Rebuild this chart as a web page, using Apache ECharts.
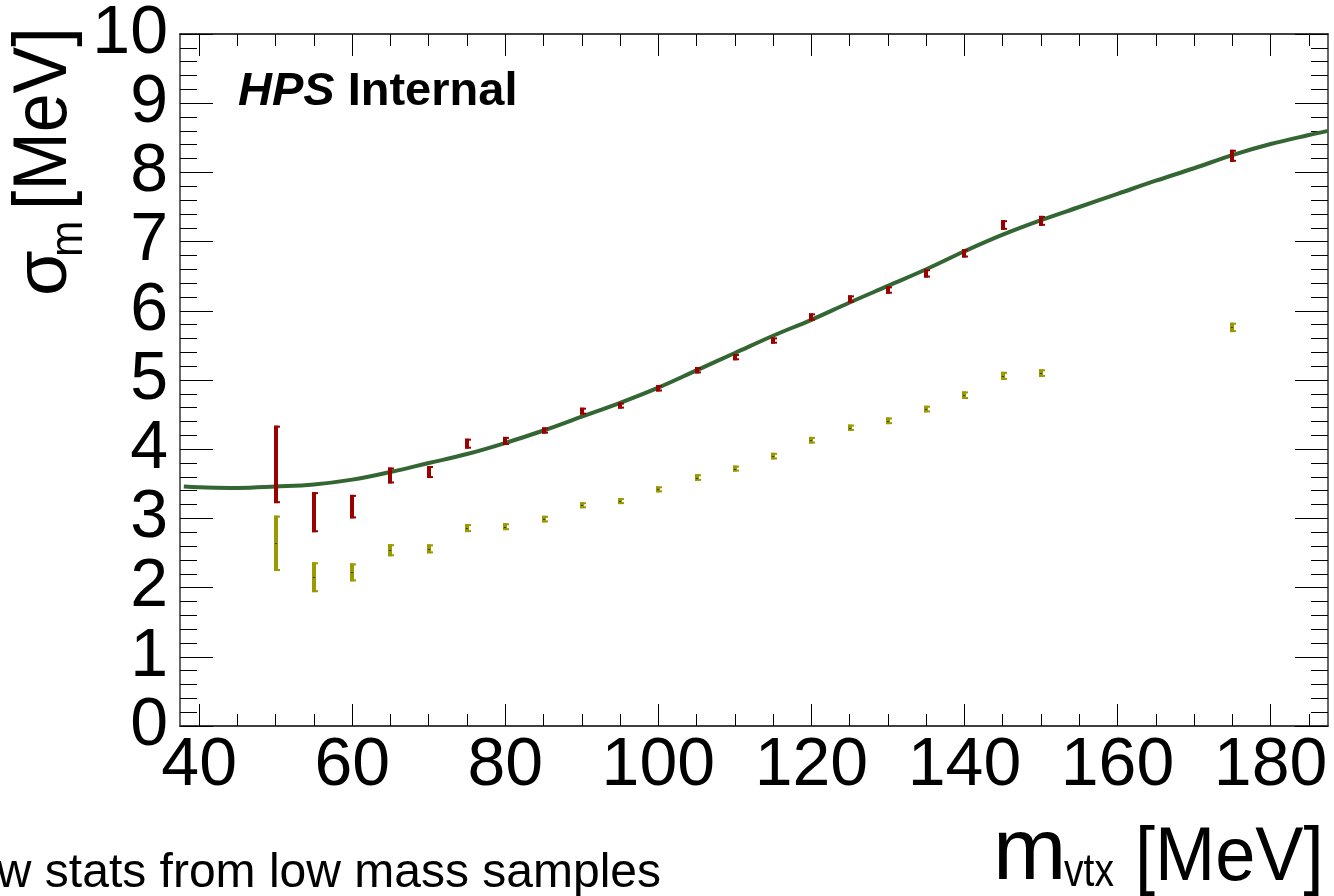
<!DOCTYPE html>
<html>
<head>
<meta charset="utf-8">
<script src="https://cdn.jsdelivr.net/npm/echarts@6/dist/echarts.min.js"></script>
<style>
html,body{margin:0;padding:0;background:#fff;overflow:hidden}
#c{width:1334px;height:896px}
</style>
</head>
<body>
<div id="c"></div>
<script>
// ---- data ----
const massPoints   = [50,55,60,65,70,75,80,85,90,95,100,105,110,115,120,125,130,135,140,145,150,175];
const redSigma     = [3.78,3.09,3.17,3.62,3.67,4.08,4.12,4.27,4.55,4.63,4.88,5.14,5.33,5.57,5.91,6.17,6.30,6.54,6.83,7.24,7.30,8.24];
const redErr       = [0.56,0.29,0.17,0.115,0.087,0.072,0.058,0.045,0.05,0.04,0.046,0.045,0.045,0.045,0.053,0.053,0.053,0.06,0.06,0.07,0.072,0.087];
const yellowSigma  = [2.64,2.15,2.22,2.54,2.56,2.86,2.88,2.99,3.19,3.25,3.42,3.59,3.72,3.90,4.13,4.31,4.41,4.58,4.78,5.06,5.10,5.76];
const yellowErr    = [0.40,0.216,0.13,0.087,0.065,0.058,0.05,0.048,0.043,0.043,0.043,0.048,0.043,0.048,0.048,0.046,0.048,0.048,0.055,0.058,0.055,0.068];
const fitMass      = [38,40,45,50,55,60,65,70,75,80,85,90,95,100,105,110,115,120,125,130,135,140,145,150,155,160,165,170,175,180,185,187.5];
const fitSigma     = [3.46,3.45,3.44,3.46,3.49,3.56,3.67,3.80,3.93,4.09,4.27,4.47,4.67,4.89,5.14,5.39,5.64,5.87,6.12,6.36,6.60,6.86,7.10,7.31,7.50,7.69,7.88,8.06,8.25,8.41,8.54,8.60];
const xMajorTicks  = [40,60,80,100,120,140,160,180];
const xMinorTicks  = [40,45,50,55,60,65,70,75,80,85,90,95,100,105,110,115,120,125,130,135,140,145,150,155,160,165,170,175,180,185];
const xRange       = [37.5,187.5];
const yRange       = [0,10];

const FONT = 'Liberation Sans, Arial, Helvetica, sans-serif';
const chart = echarts.init(document.getElementById('c'), null, {renderer:'canvas'});

function errRender(color, dot){
  return function(params, api){
    const x = api.value(0), y = api.value(1), e = api.value(2);
    const pT = api.coord([x, y + e]);
    const pB = api.coord([x, y - e]);
    const cx = Math.round(pT[0]);
    let top = pT[1], bot = pB[1];
    if (bot - top < 6){ const m=(top+bot)/2; top=m-3; bot=m+3; }
    const ch = [
      {type:'rect', shape:{x:cx-2, y:top, width:4, height:bot-top}, style:{fill:color}},
      {type:'rect', shape:{x:cx-2, y:top, width:6, height:2}, style:{fill:color}},
      {type:'rect', shape:{x:cx-2, y:bot-2, width:6, height:2}, style:{fill:color}}
    ];
    if (dot){
      const c = api.coord([x,y]);
      ch.push({type:'rect', shape:{x:cx-1, y:Math.round(c[1]), width:2, height:1}, style:{fill:'#3a3a00'}});
    }
    return {type:'group', children:ch};
  };
}

function xAxisDef(pos, ticks, len, labels){
  return {
    type:'value', position:pos, min:xRange[0], max:xRange[1],
    axisLine:{show:true, onZero:false, lineStyle:{color:'#333', width:1.5}},
    axisTick:{show:true, inside:true, length:len, customValues:ticks, lineStyle:{color:'#000', width:1}},
    axisLabel:labels ? {show:true, customValues:xMajorTicks, fontSize:68, color:'#000', fontFamily:FONT, margin:6} : {show:false},
    splitLine:{show:false}, minorTick:{show:false}
  };
}
function yAxisDef(pos, labels){
  return {
    type:'value', position:pos, min:yRange[0], max:yRange[1], interval:1,
    axisLine:{show:true, onZero:false, lineStyle:{color:'#333', width:1.5}},
    axisTick:{show:true, inside:true, length:33, lineStyle:{color:'#000', width:1}},
    minorTick:{show:true, splitNumber:5, length:17, lineStyle:{color:'#000', width:1}},
    axisLabel:labels ? {show:true, fontSize:68, color:'#000', fontFamily:FONT, margin:12} : {show:false},
    splitLine:{show:false}
  };
}

// text helper: baseline-positioned text
function T(x, base, text, fs, extra){
  return Object.assign({
    type:'text', x:x, y:base - 0.3465*fs,
    style:{text:text, fontSize:fs, fontFamily:FONT, fill:'#000', align:'left', verticalAlign:'middle'}
  }, extra||{});
}

const option = {
  animation:false,
  backgroundColor:'#fff',
  grid:{left:180, right:6, top:32, bottom:170, containLabel:false},
  xAxis:[
    xAxisDef('bottom', xMajorTicks, 22, true),
    xAxisDef('bottom', xMinorTicks, 12, false),
    xAxisDef('top', xMajorTicks, 22, false),
    xAxisDef('top', xMinorTicks, 12, false)
  ],
  yAxis:[ yAxisDef('left', true), yAxisDef('right', false) ],
  series:[
    {
      type:'line', xAxisIndex:0, yAxisIndex:0, smooth:0.4, showSymbol:false, z:3,
      lineStyle:{color:'#336633', width:4},
      data: fitMass.map((m,i)=>[m, fitSigma[i]])
    },
    {
      type:'custom', xAxisIndex:0, yAxisIndex:0, z:4,
      renderItem: errRender('#990000', false),
      encode:{x:0, y:1},
      data: massPoints.map((m,i)=>[m, redSigma[i], redErr[i]])
    },
    {
      type:'custom', xAxisIndex:0, yAxisIndex:0, z:4,
      renderItem: errRender('#999900', true),
      encode:{x:0, y:1},
      data: massPoints.map((m,i)=>[m, yellowSigma[i], yellowErr[i]])
    }
  ],
  graphic:[
    {
      type:'text', x:238, y:92,
      style:{
        text:'{a|HPS} {b|Internal}', fontSize:47, fontWeight:'bold', fontFamily:FONT, fill:'#000',
        verticalAlign:'middle', align:'left',
        rich:{
          a:{fontSize:47, fontWeight:'bold', fontStyle:'italic', fontFamily:FONT, fill:'#000'},
          b:{fontSize:47, fontWeight:'bold', fontFamily:FONT, fill:'#000'}
        }
      }
    },
    // y axis title, rotated
    {
      type:'group', x:71, y:296, rotation:Math.PI/2,
      children:[
        T(0, 0, 'σ', 74),
        T(39, 14, 'm', 46, {scaleX:0.95}),
        T(86, 0, '[MeV]', 76, {scaleX:0.92})
      ]
    },
    // x axis title
    T(993, 885, 'm', 88),
    T(1064, 889, 'vtx', 46, {scaleX:0.85}),
    T(1135, 885, '[MeV]', 76, {scaleX:0.95}),
    // footer note (clipped at left edge)
    {
      type:'text', x:661, y:890 - 0.3465*48,
      style:{text:'w stats from low mass samples', fontSize:48, fontFamily:FONT, fill:'#000', align:'right', verticalAlign:'middle'}
    }
  ]
};
chart.setOption(option);
</script>
</body>
</html>
